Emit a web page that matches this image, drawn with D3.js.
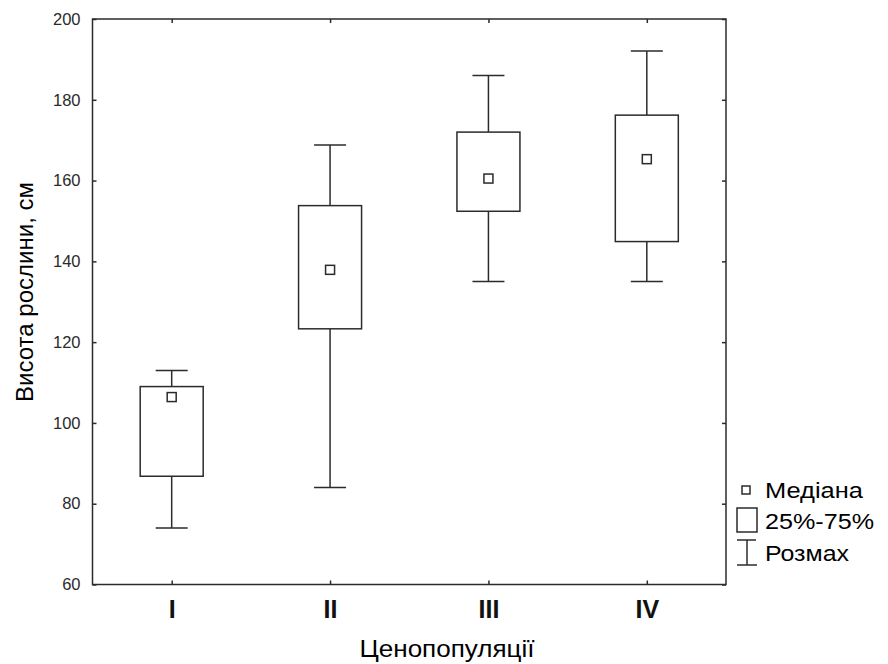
<!DOCTYPE html>
<html>
<head>
<meta charset="utf-8">
<script src="https://cdn.jsdelivr.net/npm/d3@7"></script>
<style>
  html, body { margin: 0; padding: 0; background: #fff; }
  svg { display: block; }
</style>
</head>
<body>
<script>
const categories = ["I", "II", "III", "IV"];
const whiskerLow  = [74, 84, 135, 135];
const boxLow      = [86.8, 123.3, 152.4, 144.9];
const medians     = [106.4, 137.9, 160.5, 165.3];
const boxHigh     = [109, 153.8, 172, 176.2];
const whiskerHigh = [113, 168.8, 186, 192.1];
const yTicks = [60, 80, 100, 120, 140, 160, 180, 200];
const legendLabels = ["Медіана", "25%-75%", "Розмах"];
const xTitle = "Ценопопуляції";
const yTitle = "Висота рослини, см";

const W = 888, H = 664;
const pL = 92.5, pR = 726, pT = 19, pB = 584.5;
const ink = "#2b2b2b";
const sw = 1.5;
const ff = "Arial, 'Liberation Sans', sans-serif";

const svg = d3.select("body").append("svg").attr("width", W).attr("height", H);

const x = d3.scalePoint().domain(categories).range([pL, pR]).padding(0.5);
const y = d3.scaleLinear().domain([60, 200]).range([pB, pT]);

// axes
const yl = svg.append("g").attr("transform", `translate(${pL},0)`)
  .call(d3.axisLeft(y).tickValues(yTicks).tickSize(-4).tickPadding(12));
yl.select(".domain").remove();
yl.selectAll("line").attr("stroke", ink).attr("stroke-width", sw);
yl.selectAll("text").attr("font-family", ff).attr("font-size", 16.5).attr("fill", "#2a2a2a");

const yr = svg.append("g").attr("transform", `translate(${pR},0)`)
  .call(d3.axisRight(y).tickValues(yTicks).tickSize(-4).tickFormat(""));
yr.select(".domain").remove();
yr.selectAll("line").attr("stroke", ink).attr("stroke-width", sw);

const xb = svg.append("g").attr("transform", `translate(0,${pB})`)
  .call(d3.axisBottom(x).tickSize(-4).tickPadding(16));
xb.select(".domain").remove();
xb.selectAll("line").attr("stroke", ink).attr("stroke-width", sw);
xb.selectAll("text").attr("font-family", ff)
  .attr("font-size", 25).attr("font-weight", "bold").attr("fill", "#111");

const xt = svg.append("g").attr("transform", `translate(0,${pT})`)
  .call(d3.axisTop(x).tickSize(-4).tickFormat(""));
xt.select(".domain").remove();
xt.selectAll("line").attr("stroke", ink).attr("stroke-width", sw);

// frame
svg.append("rect").attr("x", pL).attr("y", pT)
  .attr("width", pR - pL).attr("height", pB - pT)
  .attr("fill", "none").attr("stroke", ink).attr("stroke-width", sw);

// boxes
const boxW = 63, capW = 32, medS = 9;
const data = categories.map((c, i) => ({
  c, wl: whiskerLow[i], bl: boxLow[i], m: medians[i], bh: boxHigh[i], wh: whiskerHigh[i]
}));
const g = svg.append("g").attr("stroke", ink).attr("stroke-width", sw).attr("fill", "none");
const grp = g.selectAll("g.b").data(data).join("g").attr("class", "b");
grp.append("line").attr("x1", d => x(d.c)).attr("x2", d => x(d.c))
  .attr("y1", d => y(d.wh)).attr("y2", d => y(d.bh));
grp.append("line").attr("x1", d => x(d.c)).attr("x2", d => x(d.c))
  .attr("y1", d => y(d.bl)).attr("y2", d => y(d.wl));
grp.append("line").attr("x1", d => x(d.c) - capW / 2).attr("x2", d => x(d.c) + capW / 2)
  .attr("y1", d => y(d.wh)).attr("y2", d => y(d.wh));
grp.append("line").attr("x1", d => x(d.c) - capW / 2).attr("x2", d => x(d.c) + capW / 2)
  .attr("y1", d => y(d.wl)).attr("y2", d => y(d.wl));
grp.append("rect").attr("x", d => x(d.c) - boxW / 2).attr("y", d => y(d.bh))
  .attr("width", boxW).attr("height", d => y(d.bl) - y(d.bh)).attr("fill", "#fff");
grp.append("rect").attr("x", d => x(d.c) - medS / 2).attr("y", d => y(d.m) - medS / 2)
  .attr("width", medS).attr("height", medS).attr("fill", "#fff");

// axis titles
svg.append("text").attr("x", 447).attr("y", 657)
  .attr("text-anchor", "middle").attr("font-family", ff)
  .attr("font-size", 23).attr("fill", "#000")
  .attr("textLength", 175).attr("lengthAdjust", "spacingAndGlyphs").text(xTitle);
svg.append("text").attr("transform", "translate(33,292) rotate(-90)")
  .attr("text-anchor", "middle").attr("font-family", ff)
  .attr("font-size", 23).attr("fill", "#000")
  .attr("textLength", 220).attr("lengthAdjust", "spacingAndGlyphs").text(yTitle);

// legend
const lg = svg.append("g");
lg.append("rect").attr("x", 742).attr("y", 486).attr("width", 8).attr("height", 8)
  .attr("fill", "#fff").attr("stroke", ink).attr("stroke-width", sw);
lg.append("rect").attr("x", 737).attr("y", 508).attr("width", 20).attr("height", 24)
  .attr("fill", "#fff").attr("stroke", ink).attr("stroke-width", sw);
lg.append("line").attr("x1", 747).attr("x2", 747).attr("y1", 540).attr("y2", 565)
  .attr("stroke", ink).attr("stroke-width", sw);
lg.append("line").attr("x1", 737).attr("x2", 756).attr("y1", 540).attr("y2", 540)
  .attr("stroke", ink).attr("stroke-width", sw);
lg.append("line").attr("x1", 737).attr("x2", 757).attr("y1", 565).attr("y2", 565)
  .attr("stroke", ink).attr("stroke-width", sw);
const lb = [498, 528.5, 561];
const lw = [98, 109, 84];
legendLabels.forEach((t, i) => {
  lg.append("text").attr("x", 765).attr("y", lb[i]).attr("font-family", ff)
    .attr("font-size", 22).attr("fill", "#000")
    .attr("textLength", lw[i]).attr("lengthAdjust", "spacingAndGlyphs").text(t);
});
</script>
</body>
</html>
